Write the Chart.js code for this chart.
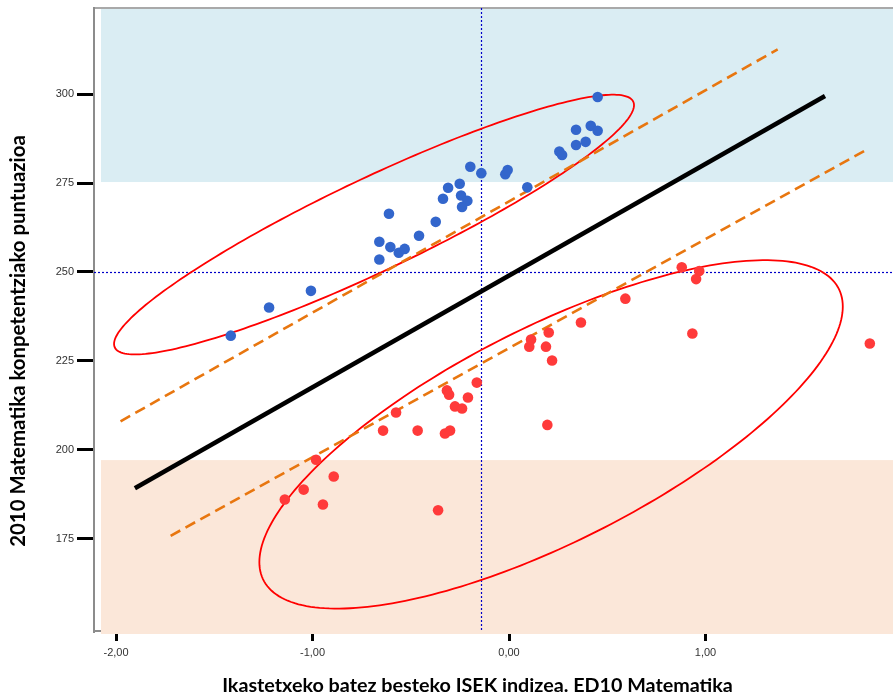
<!DOCTYPE html>
<html>
<head>
<meta charset="utf-8">
<script src="https://cdn.jsdelivr.net/npm/chart.js@4/dist/chart.umd.min.js"></script>
<style>
  html, body { margin: 0; padding: 0; background: #ffffff; }
  #wrap { width: 893px; height: 699px; position: relative; }
</style>
</head>
<body>
<div id="wrap"><canvas id="c"></canvas></div>
<script>
// ---- data ----
const blueX = [-1.416,-1.221,-1.008,-0.660,-0.660,-0.611,-0.604,-0.561,-0.531,-0.458,
               -0.373,-0.336,-0.310,-0.251,-0.244,-0.212,-0.239,-0.197,-0.141,-0.019,
               -0.007,0.093,0.256,0.270,0.341,0.341,0.390,0.416,0.451,0.451];
const blueY = [232.1,240.0,244.7,258.5,253.5,266.4,257.0,255.4,256.5,260.2,
               264.1,270.6,273.7,274.8,271.5,270.0,268.3,279.6,277.8,277.5,
               278.7,273.8,283.9,282.9,290.0,285.7,286.6,291.1,289.7,299.2];
const redX = [-1.141,-1.045,-0.982,-0.947,-0.892,-0.641,-0.575,-0.465,-0.361,-0.326,
              -0.300,-0.316,-0.305,-0.275,-0.239,-0.209,-0.164,0.103,0.112,0.202,
              0.188,0.219,0.195,0.366,0.592,0.879,0.968,0.952,0.933,1.836];
const redY = [186.0,188.8,197.2,184.6,192.5,205.4,210.5,205.4,183.0,204.6,
              205.4,216.7,215.5,212.2,211.6,214.7,218.9,229.0,231.0,233.0,
              229.0,225.1,207.0,235.8,242.5,251.3,250.3,248.0,232.7,229.9];

const mainLineX = [-1.904, 1.608];
const mainLineY = [189.2, 299.5];
const upperFitX = [-1.977, 1.367];
const upperFitY = [208.0, 312.6];
const lowerFitX = [-1.722, 1.830];
const lowerFitY = [175.8, 284.7];

const refX = -0.142;          // vertical dotted reference
const refY = 250;             // horizontal dotted reference
const highBandFrom = 275.3;   // blue band lower limit
const lowBandTo = 197.1;      // peach band upper limit

// ellipses: centre, conjugate half-diameters (data units)
const upperEllCenter = [-0.687, 263.34];
const upperEllA = [1.323, 33.57];
const upperEllB = [0, 14.38];
const lowerEllCenter = [0.214, 204.33];
const lowerEllA = [1.4845, 35.93];
const lowerEllB = [0, 33.31];

const xTicks = [-2, -1, 0, 1];
const yTicks = [175, 200, 225, 250, 275, 300];
const xTitle = 'Ikastetxeko batez besteko ISEK indizea. ED10 Matematika';
const yTitle = '2010 Matematika konpetentziako puntuazioa';

const toPts = (xs, ys) => xs.map((x, i) => ({x: x, y: ys[i]}));

const bgPlugin = {
  id: 'bg',
  beforeDatasetsDraw(chart) {
    const {ctx, chartArea: a, scales: {x, y}} = chart;
    ctx.save();
    // bands
    ctx.fillStyle = '#DAEDF3';
    const yb = y.getPixelForValue(highBandFrom);
    ctx.fillRect(a.left + 7, a.top + 1, a.right - a.left - 7, yb - a.top - 1);
    ctx.fillStyle = '#FBE7D9';
    const yo = y.getPixelForValue(lowBandTo);
    ctx.fillRect(a.left + 7, yo, a.right - a.left - 7, a.bottom + 3 - yo);
    // top frame line
    ctx.strokeStyle = '#8c8c8c';
    ctx.lineWidth = 1.5;
    ctx.beginPath();
    ctx.moveTo(a.left, a.top);
    ctx.lineTo(a.right, a.top);
    ctx.stroke();
    // dotted references
    ctx.strokeStyle = '#0000C8';
    ctx.lineWidth = 1.2;
    ctx.setLineDash([2, 2]);
    const rx = Math.round(x.getPixelForValue(refX)) + 0.5;
    ctx.beginPath();
    ctx.moveTo(rx, a.top);
    ctx.lineTo(rx, a.bottom);
    ctx.stroke();
    const ry = Math.round(y.getPixelForValue(refY)) + 0.5;
    ctx.beginPath();
    ctx.moveTo(a.left, ry);
    ctx.lineTo(a.right, ry);
    ctx.stroke();
    ctx.setLineDash([]);
    // ellipses
    ctx.strokeStyle = '#FF0000';
    ctx.lineWidth = 1.8;
    [[upperEllCenter, upperEllA, upperEllB], [lowerEllCenter, lowerEllA, lowerEllB]].forEach(([c, u, v]) => {
      ctx.beginPath();
      for (let k = 0; k <= 240; k++) {
        const t = k / 240 * Math.PI * 2;
        const X = c[0] + u[0] * Math.cos(t) + v[0] * Math.sin(t);
        const Y = c[1] + u[1] * Math.cos(t) + v[1] * Math.sin(t);
        const px = x.getPixelForValue(X), py = y.getPixelForValue(Y);
        if (k === 0) ctx.moveTo(px, py); else ctx.lineTo(px, py);
      }
      ctx.closePath();
      ctx.stroke();
    });
    ctx.restore();
  },
  afterDraw(chart) {
    const {ctx} = chart;
    ctx.save();
    ctx.fillStyle = '#000000';
    ctx.textAlign = 'center';
    ctx.textBaseline = 'middle';
    // x title
    ctx.font = 'bold 17px Lato';
    let w = ctx.measureText(xTitle).width;
    let fs = 17 * 511 / w;
    ctx.font = 'bold ' + fs.toFixed(2) + 'px Lato';
    ctx.fillText(xTitle, 477.5, 686);
    // y title
    ctx.font = 'bold 17px Lato';
    w = ctx.measureText(yTitle).width;
    fs = 17 * 412 / w;
    ctx.font = 'bold ' + fs.toFixed(2) + 'px Lato';
    ctx.translate(18.5, 341);
    ctx.rotate(-Math.PI / 2);
    ctx.fillText(yTitle, 0, 0);
    ctx.restore();
  }
};

const fmt = v => v.toFixed(2).replace('.', ',');

new Chart(document.getElementById('c'), {
  type: 'scatter',
  data: {
    datasets: [
      { data: toPts(blueX, blueY), backgroundColor: '#3366CC', borderWidth: 0, pointRadius: 5.3, pointHoverRadius: 5.3 },
      { data: toPts(redX, redY), backgroundColor: '#FF3A3A', borderWidth: 0, pointRadius: 5.3, pointHoverRadius: 5.3 },
      { type: 'line', data: toPts(mainLineX, mainLineY), borderColor: '#000000', borderWidth: 4.5, pointRadius: 0, fill: false },
      { type: 'line', data: toPts(upperFitX, upperFitY), borderColor: '#E8760F', borderWidth: 2.6, borderDash: [11, 6], pointRadius: 0, fill: false },
      { type: 'line', data: toPts(lowerFitX, lowerFitY), borderColor: '#E8760F', borderWidth: 2.6, borderDash: [11, 6], pointRadius: 0, fill: false }
    ]
  },
  options: {
    responsive: true,
    maintainAspectRatio: false,
    animation: false,
    layout: { autoPadding: false, padding: { top: 8, right: 0, bottom: 0, left: 0 } },
    plugins: { legend: { display: false }, tooltip: { enabled: false } },
    scales: {
      x: {
        type: 'linear',
        min: -2.112,
        max: 1.954,
        afterBuildTicks: s => { s.ticks = xTicks.map(v => ({value: v})); },
        afterFit: s => { s.height = 68; s.paddingLeft = 0; s.paddingRight = 0; },
        grid: { drawOnChartArea: false, drawTicks: true, tickLength: 10, color: '#000000', lineWidth: 3 },
        border: { display: true, color: '#8c8c8c', width: 2 },
        ticks: { callback: v => fmt(v), font: { family: 'Liberation Sans', size: 11 }, color: '#333333', padding: 5, maxRotation: 0, autoSkip: false }
      },
      y: {
        type: 'linear',
        min: 149.04,
        max: 324.24,
        afterBuildTicks: s => { s.ticks = yTicks.map(v => ({value: v})); },
        afterFit: s => { s.width = 94; s.paddingTop = 0; s.paddingBottom = 0; },
        grid: { drawOnChartArea: false, drawTicks: true, tickLength: 17, color: '#000000', lineWidth: 3 },
        border: { display: true, color: '#8c8c8c', width: 2 },
        ticks: { callback: v => String(v), font: { family: 'Liberation Sans', size: 11 }, color: '#333333', padding: 3, autoSkip: false }
      }
    }
  },
  plugins: [bgPlugin]
});
</script>
</body>
</html>
